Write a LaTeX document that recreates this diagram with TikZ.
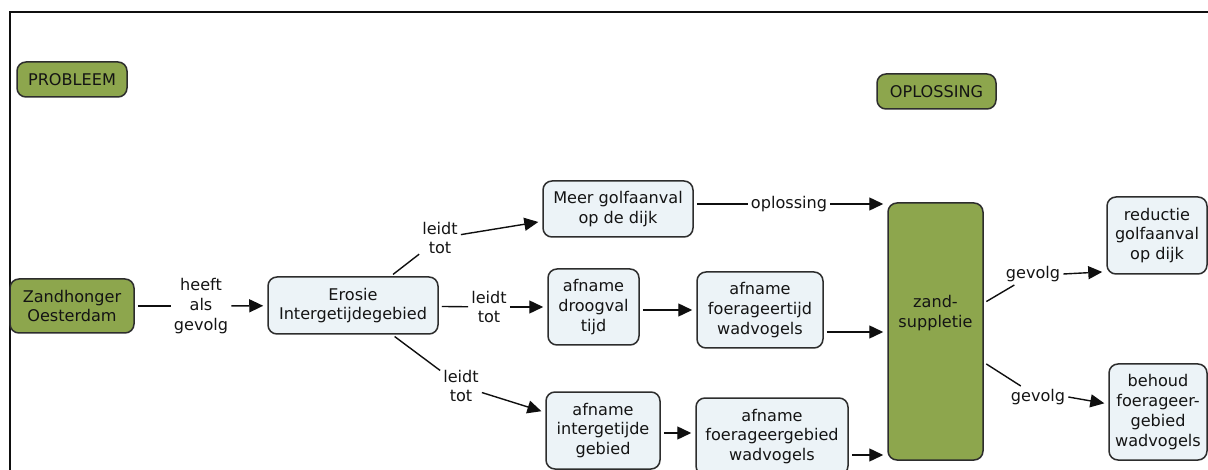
\documentclass[tikz,border=0pt]{standalone}
\usepackage{fontspec}
\usetikzlibrary{arrows.meta}
\newfontfamily\vfont{DejaVu Sans}
\newcommand\myfs{\vfont\fontsize{16.1}{19.8}\selectfont}
\definecolor{grn}{RGB}{141,166,77}
\definecolor{lblue}{RGB}{236,243,247}
\definecolor{bordc}{RGB}{45,45,45}
\definecolor{txtc}{RGB}{20,20,20}
\definecolor{linec}{RGB}{15,15,15}
\tikzset{
  box/.style={draw=bordc, line width=1.5pt, rounded corners=9pt, align=center, inner sep=0pt, text=txtc, font=\myfs},
  gbox/.style={box, fill=grn},
  bbox/.style={box, fill=lblue},
  lbl/.style={align=center, inner sep=3pt, text=txtc, font=\myfs},
  ln/.style={line width=1.4pt, draw=linec, shorten <=3pt},
  arr/.style={line width=1.4pt, draw=linec, -{Triangle[length=14pt,width=13pt]}, shorten >=4pt},
  barr/.style={arr, shorten <=3pt},
}
\begin{document}
\begin{tikzpicture}[x=1pt,y=-1pt]
\useasboundingbox (0,0) rectangle (1208,470);
\clip (0,0) rectangle (1208,470);
% frame
\draw[line width=1.6pt, draw=linec] (10,471) -- (10,12) -- (1209,12);
% nodes
\node[gbox, minimum width=110pt, minimum height=35pt] (prob) at (72,79.5) {PROBLEEM};
\node[gbox, minimum width=119pt, minimum height=35pt] (opl) at (936.5,91.5) {OPLOSSING};
\node[gbox, minimum width=124pt, minimum height=54pt] (zand) at (72,306) {Zandhonger\\Oesterdam};
\node[bbox, minimum width=170pt, minimum height=57pt] (eros) at (353,305.5) {Erosie\\Intergetijdegebied};
\node[bbox, minimum width=150pt, minimum height=56pt] (meer) at (618,209) {Meer golfaanval\\op de dijk};
\node[bbox, minimum width=91pt, minimum height=76pt] (droog) at (593.5,307) {afname\\droogval\\tijd};
\node[bbox, minimum width=126pt, minimum height=76pt] (ftijd) at (760,310) {afname\\foerageertijd\\wadvogels};
\node[bbox, minimum width=114pt, minimum height=77pt] (inter) at (603,430.5) {afname\\intergetijde\\gebied};
\node[bbox, minimum width=152pt, minimum height=77pt] (fgeb) at (772,436.5) {afname\\foerageergebied\\wadvogels};
\node[gbox, minimum width=95pt, minimum height=257pt] (supp) at (935.5,331.5) {};
\node[lbl] (supptxt) at (935.5,313) {zand-\\suppletie};
\node[bbox, minimum width=100pt, minimum height=77pt] (red) at (1157,235.5) {reductie\\golfaanval\\op dijk};
\node[bbox, minimum width=98pt, minimum height=96pt] (beh) at (1158,412) {behoud\\foerageer-\\gebied\\wadvogels};
% labels
\node[lbl] (hag) at (201,306) {heeft\\als\\gevolg};
\node[lbl] (lt1) at (440,238) {leidt\\tot};
\node[lbl] (lt2) at (489,307) {leidt\\tot};
\node[lbl] (lt3) at (461,386) {leidt\\tot};
\node[lbl] (oplab) at (789,204) {oplossing};
\node[lbl] (gv1) at (1033,274) {gevolg};
\node[lbl] (gv2) at (1038,397) {gevolg};
% connectors
\draw[ln] (zand) -- (hag);
\draw[arr] (hag) -- (eros);
\draw[ln] (eros) -- (lt1);
\draw[arr] (lt1) -- (meer);
\draw[ln] (eros) -- (lt2);
\draw[arr] (lt2) -- (droog);
\draw[ln] (eros) -- (lt3);
\draw[arr] (lt3) -- (inter);
\draw[ln] (meer.east |- oplab) -- (oplab);
\draw[arr] (oplab) -- (oplab -| supp.west);
\draw[barr] (droog.east |- ftijd.west) -- (ftijd.west);
\draw[barr] ([yshift=-22pt]ftijd.east) -- ([yshift=-22pt]ftijd.east -| supp.west);
\draw[barr] ([yshift=-2.5pt]inter.east) -- ([yshift=-2.5pt]inter.east -| fgeb.west);
\draw[barr] ([yshift=-18.5pt]fgeb.east) -- ([yshift=-18.5pt]fgeb.east -| supp.west);
\draw[ln] (supp) -- (gv1);
\draw[arr] (gv1.east) -- ([yshift=3pt]red.south west);
\draw[ln] (supp) -- (gv2);
\draw[arr] (gv2.east) -- ([yshift=8pt]beh.west);
\end{tikzpicture}
\end{document}
